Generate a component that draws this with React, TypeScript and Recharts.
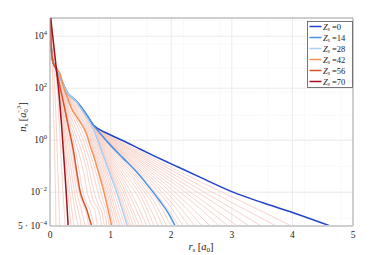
import React from 'react';
import { LineChart, Line, XAxis, YAxis, CartesianGrid, ReferenceLine, Legend } from 'recharts';

type P = [number, number]; // [r_s in a0, log10 of n_s]

// ---------- data (log10 n_s) ----------
const headAll: P[] = [[0, 5.0], [0.02, 3.6], [0.05, 3.0]];
const bandBlue: P[] = [[0.1, 2.8], [0.2, 2.25], [0.28, 1.85], [0.41, 1.55], [0.5, 1.32], [0.61, 0.95], [0.72, 0.57]];
const bandBlueEarly: P[] = [[0.1, 2.8], [0.2, 2.25], [0.28, 1.85], [0.41, 1.55], [0.5, 1.32], [0.6, 0.94]];

const zs0Tail: P[] = [[0.8, 0.43], [1.0, 0.2], [1.25, -0.07], [1.5, -0.36], [1.75, -0.64], [2.0, -0.91], [2.5, -1.45], [3.0, -1.98], [3.5, -2.4], [4.0, -2.78], [4.65, -3.32]];
const zs14Tail: P[] = [[0.85, 0.2], [1.0, -0.2], [1.2, -0.68], [1.4, -1.15], [1.6, -1.7], [1.8, -2.3], [1.95, -2.8], [2.07, -3.32]];
const zs28Tail: P[] = [[0.5, 1.25], [0.6, 0.9], [0.66, 0.68], [0.77, 0.1], [0.86, -0.48], [0.96, -1.12], [1.1, -2.0], [1.28, -3.32]];
const zs42Path: P[] = [[0.1, 2.78], [0.165, 2.55], [0.23, 2.0], [0.3, 1.55], [0.35, 1.25], [0.47, 0.8], [0.61, 0.19], [0.66, -0.2], [0.72, -0.6], [0.77, -1.0], [0.88, -1.9], [1.02, -3.32]];
const zs56Path: P[] = [[0.1, 2.72], [0.13, 2.41], [0.21, 1.58], [0.3, 0.57], [0.39, -0.45], [0.44, -1.2], [0.5, -2.0], [0.55, -2.35], [0.61, -2.7], [0.66, -3.1], [0.69, -3.32]];
const zs70Path: P[] = [[0, 5.0], [0.03, 4.3], [0.055, 3.8], [0.1, 2.85], [0.15, 1.75], [0.19, 0.6], [0.22, -0.4], [0.25, -1.4], [0.275, -2.3], [0.3, -3.32]];

// Zs = 1..13 (after the shared blue band)
const gapA: P[][] = [
  [[1.0, 0.15], [1.5, -0.45], [2.0, -1.05], [2.5, -1.62], [3.0, -2.18], [3.5, -2.74], [4.0, -3.32]],
  [[1.0, 0.12], [1.5, -0.52], [2.0, -1.15], [2.5, -1.78], [3.0, -2.4], [3.75, -3.32]],
  [[1.0, 0.09], [1.5, -0.58], [2.0, -1.26], [2.5, -1.94], [3.0, -2.62], [3.5, -3.32]],
  [[1.0, 0.06], [1.5, -0.64], [2.0, -1.37], [2.5, -2.1], [3.0, -2.85], [3.3, -3.32]],
  [[1.0, 0.03], [1.5, -0.71], [2.0, -1.49], [2.5, -2.3], [3.1, -3.32]],
  [[1.0, 0.0], [1.5, -0.78], [2.0, -1.6], [2.5, -2.48], [2.95, -3.32]],
  [[1.0, -0.03], [1.5, -0.85], [2.0, -1.74], [2.5, -2.68], [2.8, -3.32]],
  [[1.0, -0.06], [1.5, -0.93], [2.0, -1.88], [2.65, -3.32]],
  [[1.0, -0.09], [1.5, -1.01], [2.0, -2.03], [2.52, -3.32]],
  [[1.0, -0.11], [1.5, -1.1], [2.0, -2.2], [2.4, -3.32]],
  [[1.0, -0.13], [1.5, -1.18], [2.0, -2.4], [2.3, -3.32]],
  [[1.0, -0.15], [1.5, -1.27], [2.0, -2.6], [2.2, -3.32]],
  [[1.0, -0.17], [1.5, -1.35], [2.0, -2.85], [2.13, -3.32]],
];

// Zs = 15..27
const gapB: P[][] = [
  [[0.7, 0.61], [0.85, 0.16], [1.0, -0.26], [1.2, -0.76], [1.5, -1.55], [1.8, -2.45], [2.0, -3.32]],
  [[0.7, 0.6], [0.85, 0.12], [1.0, -0.33], [1.2, -0.85], [1.5, -1.66], [1.7, -2.3], [1.93, -3.32]],
  [[0.7, 0.59], [0.85, 0.07], [1.0, -0.41], [1.2, -0.95], [1.5, -1.8], [1.7, -2.5], [1.86, -3.32]],
  [[0.7, 0.58], [0.85, 0.02], [1.0, -0.49], [1.2, -1.06], [1.5, -1.95], [1.79, -3.32]],
  [[0.7, 0.57], [0.85, -0.04], [1.0, -0.57], [1.2, -1.18], [1.5, -2.15], [1.72, -3.32]],
  [[0.7, 0.56], [0.85, -0.1], [1.0, -0.65], [1.2, -1.31], [1.5, -2.4], [1.66, -3.32]],
  [[0.7, 0.55], [0.85, -0.16], [1.0, -0.74], [1.2, -1.45], [1.4, -2.3], [1.6, -3.32]],
  [[0.7, 0.54], [0.85, -0.22], [1.0, -0.83], [1.2, -1.6], [1.4, -2.55], [1.54, -3.32]],
  [[0.7, 0.53], [0.85, -0.28], [1.0, -0.93], [1.2, -1.77], [1.35, -2.6], [1.48, -3.32]],
  [[0.7, 0.52], [0.85, -0.33], [1.0, -1.03], [1.2, -1.95], [1.3, -2.5], [1.43, -3.32]],
  [[0.7, 0.51], [0.85, -0.38], [1.0, -1.12], [1.2, -2.15], [1.38, -3.32]],
  [[0.7, 0.5], [0.85, -0.41], [1.0, -1.2], [1.2, -2.35], [1.34, -3.32]],
  [[0.7, 0.49], [0.85, -0.44], [1.0, -1.27], [1.2, -2.52], [1.31, -3.32]],
];

// Zs = 30..40 (every other)
const gapC: P[][] = [
  [[0.3, 1.81], [0.4, 1.48], [0.5, 1.2], [0.6, 0.85], [0.7, 0.34], [0.8, -0.28], [0.9, -0.93], [1.0, -1.6], [1.1, -2.3], [1.24, -3.32]],
  [[0.3, 1.77], [0.4, 1.42], [0.5, 1.12], [0.6, 0.76], [0.7, 0.2], [0.8, -0.43], [0.9, -1.1], [1.0, -1.82], [1.1, -2.6], [1.2, -3.32]],
  [[0.3, 1.72], [0.4, 1.36], [0.5, 1.04], [0.6, 0.66], [0.7, 0.07], [0.8, -0.6], [0.9, -1.3], [1.0, -2.05], [1.1, -2.9], [1.16, -3.32]],
  [[0.3, 1.68], [0.4, 1.29], [0.5, 0.95], [0.6, 0.55], [0.7, -0.07], [0.8, -0.77], [0.9, -1.5], [1.0, -2.3], [1.12, -3.32]],
  [[0.3, 1.64], [0.4, 1.23], [0.5, 0.87], [0.6, 0.44], [0.7, -0.2], [0.8, -0.93], [0.9, -1.7], [1.0, -2.55], [1.08, -3.32]],
  [[0.3, 1.6], [0.4, 1.16], [0.5, 0.78], [0.6, 0.33], [0.7, -0.33], [0.8, -1.1], [0.9, -1.88], [1.0, -2.85], [1.05, -3.32]],
];

// Zs = 44..54 (every other)
const gapD: P[][] = [
  [[0.2, 2.2], [0.3, 1.45], [0.4, 0.95], [0.5, 0.5], [0.6, -0.05], [0.7, -0.8], [0.8, -1.6], [0.88, -2.35], [0.93, -2.7], [0.98, -3.32]],
  [[0.2, 2.1], [0.3, 1.32], [0.4, 0.78], [0.5, 0.28], [0.6, -0.35], [0.7, -1.15], [0.78, -1.9], [0.85, -2.45], [0.9, -2.75], [0.94, -3.32]],
  [[0.2, 2.0], [0.3, 1.18], [0.4, 0.58], [0.5, 0.02], [0.6, -0.7], [0.68, -1.5], [0.74, -2.1], [0.8, -2.5], [0.86, -2.8], [0.9, -3.32]],
  [[0.2, 1.92], [0.3, 1.05], [0.4, 0.35], [0.5, -0.3], [0.6, -1.1], [0.66, -1.8], [0.72, -2.35], [0.78, -2.6], [0.82, -2.85], [0.85, -3.32]],
  [[0.2, 1.85], [0.3, 0.9], [0.4, 0.1], [0.5, -0.7], [0.56, -1.3], [0.62, -2.05], [0.68, -2.45], [0.74, -2.7], [0.78, -3.32]],
  [[0.2, 1.76], [0.3, 0.75], [0.4, -0.2], [0.47, -1.0], [0.53, -1.85], [0.6, -2.4], [0.66, -2.7], [0.73, -3.32]],
];

// Zs = 58..68 (every other)
const gapE: P[][] = [
  [[0.1, 2.74], [0.15, 2.25], [0.21, 1.55], [0.29, 0.55], [0.37, -0.45], [0.42, -1.25], [0.48, -2.0], [0.54, -2.45], [0.6, -2.8], [0.64, -3.32]],
  [[0.1, 2.76], [0.15, 2.2], [0.2, 1.45], [0.27, 0.5], [0.34, -0.45], [0.4, -1.4], [0.45, -2.1], [0.51, -2.6], [0.58, -3.32]],
  [[0.1, 2.78], [0.15, 2.1], [0.2, 1.3], [0.26, 0.35], [0.32, -0.6], [0.37, -1.5], [0.42, -2.25], [0.47, -2.75], [0.52, -3.32]],
  [[0.1, 2.8], [0.15, 2.0], [0.2, 1.1], [0.25, 0.15], [0.3, -0.8], [0.35, -1.75], [0.4, -2.5], [0.46, -3.32]],
  [[0.1, 2.83], [0.15, 1.9], [0.2, 0.85], [0.25, -0.25], [0.29, -1.2], [0.33, -2.1], [0.36, -2.7], [0.4, -3.32]],
  [[0.1, 2.85], [0.15, 1.8], [0.2, 0.55], [0.24, -0.5], [0.28, -1.5], [0.31, -2.4], [0.35, -3.32]],
];

// steep curves left of Zs = 70
const gapF: P[][] = [
  [[0, 5.0], [0.03, 4.2], [0.06, 3.5], [0.1, 2.6], [0.13, 1.6], [0.16, 0.3], [0.2, -1.4], [0.25, -3.32]],
  [[0, 5.0], [0.03, 4.0], [0.06, 2.9], [0.09, 1.4], [0.11, 0.2], [0.13, -1.2], [0.16, -3.32]],
  [[0, 5.0], [0.02, 4.0], [0.04, 2.6], [0.06, 1.0], [0.08, -0.8], [0.1, -3.32]],
];

const zsLabels = ['0', '14', '28', '42', '56', '70'];
const zsColors = ['#2243c9', '#4a91e3', '#a9cff3', '#f39359', '#d8522b', '#a3111e'];
const zsPaths: P[][] = [
  [...headAll, ...bandBlue, ...zs0Tail],
  [...headAll, ...bandBlue, ...zs14Tail],
  [...headAll, ...bandBlue.slice(0, 4), ...zs28Tail],
  [...headAll, ...zs42Path],
  [...headAll, ...zs56Path],
  zs70Path,
];

const xTicks = [0, 1, 2, 3, 4, 5];
const yTicks = [5e-4, 1e-2, 1, 1e2, 1e4];
const yTickBase = ['5 \u00b7 10', '10', '10', '10', '10'];
const yTickExp = ['\u22124', '\u22122', '0', '2', '4'];

const xMinor: number[] = [];
for (let i = 1; i < 25; i++) if (i % 5 !== 0) xMinor.push(i / 5);
const yMinor: number[] = [];
for (let e = -4; e <= 4; e++) for (let k = 1; k <= 9; k++) {
  const v = k * Math.pow(10, e);
  if (v > 5e-4 && v < 5e4) yMinor.push(v);
}

const toPts = (p: P[]) => p.map(([x, l]) => ({ x, y: Math.pow(10, l) }));

const bgPaths: P[][] = [
  ...gapA.map((t) => [...headAll, ...bandBlue, ...t]),
  ...gapB.map((t) => [...headAll, ...bandBlueEarly, ...t]),
  ...gapC.map((t) => [...headAll, [0.1, 2.8] as P, [0.2, 2.25] as P, ...t]),
  ...gapD.map((t) => [...headAll, [0.1, 2.75] as P, ...t]),
  ...gapE.map((t) => [...headAll, ...t]),
  ...gapF,
];

const FONT = "'Liberation Serif', 'DejaVu Serif', serif";

const YTick = (props: any) => {
  const { x, y, payload } = props;
  const i = yTicks.findIndex((t) => Math.abs(t - payload.value) / t < 1e-6);
  if (i < 0) return null;
  return (
    <text x={x} y={y + 3.2} textAnchor="end" fontSize={9.5} fontFamily={FONT} fill="#222">
      <tspan>{yTickBase[i]}</tspan>
      <tspan dy={-4} fontSize={6.5}>{yTickExp[i]}</tspan>
    </text>
  );
};

const XTick = (props: any) => {
  const { x, y, payload } = props;
  return (
    <text x={x} y={y + 7.5} textAnchor="middle" fontSize={9.5} fontFamily={FONT} fill="#222">
      {payload.value}
    </text>
  );
};

const LegendBox = () => (
  <svg width={46} height={67} style={{ display: 'block' }}>
    <rect x={0.5} y={0.5} width={45} height={66} fill="#fff" stroke="#555" strokeWidth={0.8} />
    {zsLabels.map((l, i) => {
      const cy = 5.5 + i * 11;
      return (
        <g key={l}>
          <line x1={2.5} x2={14.5} y1={cy} y2={cy} stroke={zsColors[i]} strokeWidth={1.5} />
          <text x={16} y={cy + 3} fontSize={8.5} fontFamily={FONT} fill="#222">
            <tspan fontStyle="italic">Z</tspan>
            <tspan fontSize={5.5} fontStyle="italic" dy={1.5}>s</tspan>
            <tspan dy={-1.5}>{' ='}{l}</tspan>
          </text>
        </g>
      );
    })}
  </svg>
);

export default function App() {
  return (
    <div style={{ position: 'absolute', left: 0, top: 0, width: 389, height: 255, background: '#fff' }}>
      <LineChart width={389} height={255} margin={{ top: 18, right: 36, bottom: 0, left: 0 }}>
        <XAxis xAxisId="minor" type="number" dataKey="x" domain={[0, 5]} ticks={xMinor} hide allowDataOverflow />
        <YAxis yAxisId="minor" type="number" scale="log" domain={[5e-4, 5e4]} ticks={yMinor} hide allowDataOverflow />
        <CartesianGrid xAxisId="minor" yAxisId="minor" stroke="#eeeeee" strokeDasharray="1 1.5" strokeWidth={0.8} />
        <CartesianGrid stroke="#e6e6e6" strokeWidth={0.8} />
        <XAxis
          type="number"
          dataKey="x"
          domain={[0, 5]}
          ticks={xTicks}
          allowDataOverflow
          height={29}
          tickSize={0}
          tickMargin={4}
          tick={<XTick />}
          axisLine={{ stroke: '#cfcfcf', strokeWidth: 2 }}
        />
        <YAxis
          type="number"
          scale="log"
          domain={[5e-4, 5e4]}
          ticks={yTicks}
          allowDataOverflow
          width={50}
          tickSize={0}
          tickMargin={3}
          tick={<YTick />}
          axisLine={{ stroke: '#a8a8a8', strokeWidth: 1 }}
        />
        <ReferenceLine y={5e4} stroke="#a8a8a8" strokeWidth={1} />
        <ReferenceLine x={5} stroke="#a8a8a8" strokeWidth={1} />
        {bgPaths.map((p, i) => (
          <Line
            key={'bg' + i}
            data={toPts(p)}
            dataKey="y"
            type="monotone"
            stroke="#f5c5ba"
            strokeWidth={0.75}
            dot={false}
            activeDot={false}
            legendType="none"
            isAnimationActive={false}
          />
        ))}
        {zsPaths.map((p, i) => (
          <Line
            key={'zs' + i}
            data={toPts(p)}
            dataKey="y"
            type="monotone"
            stroke={zsColors[i]}
            strokeWidth={1.5}
            dot={false}
            activeDot={false}
            name={'Zs=' + zsLabels[i]}
            isAnimationActive={false}
          />
        ))}
        <Legend
          layout="vertical"
          align="center"
          verticalAlign="middle"
          content={() => <LegendBox />}
          wrapperStyle={{ left: 307, top: 21, width: 46, height: 67, right: 'auto', bottom: 'auto' }}
        />
      </LineChart>
      <svg width={389} height={255} style={{ position: 'absolute', left: 0, top: 0, pointerEvents: 'none' }}>
        <text x={201} y={250} textAnchor="middle" fontSize={10.5} fontFamily={FONT} fill="#222">
          <tspan fontStyle="italic">r</tspan>
          <tspan fontSize={7} fontStyle="italic" dy={2}>s</tspan>
          <tspan dy={-2}>{' ['}</tspan>
          <tspan fontStyle="italic">a</tspan>
          <tspan fontSize={7} dy={2}>0</tspan>
          <tspan dy={-2}>]</tspan>
        </text>
        <text transform="translate(25.5,117) rotate(-90)" textAnchor="middle" fontSize={10.5} fontFamily={FONT} fill="#222">
          <tspan fontStyle="italic">n</tspan>
          <tspan fontSize={7} fontStyle="italic" dy={2}>s</tspan>
          <tspan dy={-2}>{' ['}</tspan>
          <tspan fontStyle="italic">a</tspan>
          <tspan fontSize={6.5} dy={2.5}>0</tspan>
          <tspan fontSize={6.5} dx={-3.5} dy={-7}>{'\u22123'}</tspan>
          <tspan dy={4.5}>]</tspan>
        </text>
      </svg>
    </div>
  );
}
